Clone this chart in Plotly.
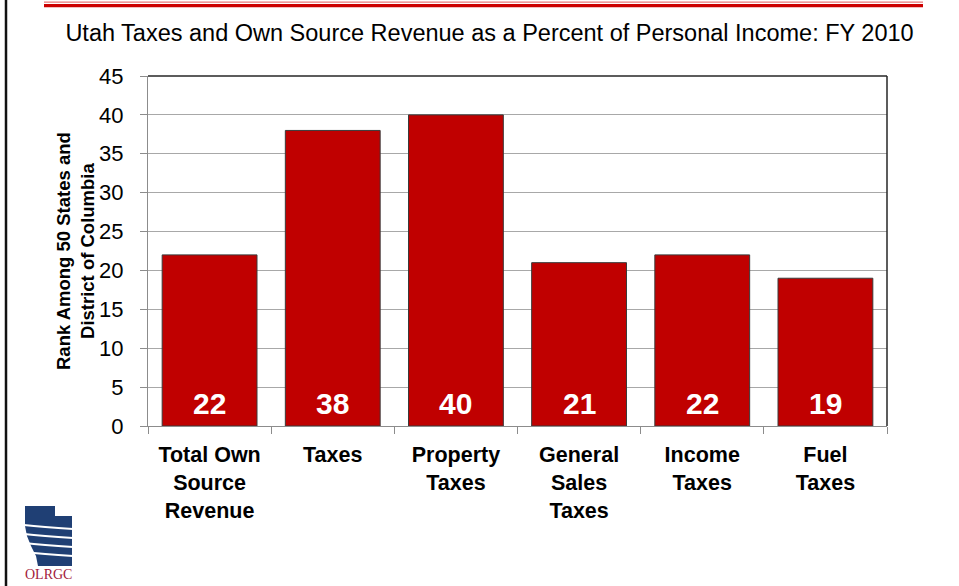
import plotly.graph_objects as go

categories = ["Total Own<br>Source<br>Revenue", "Taxes", "Property<br>Taxes",
              "General<br>Sales<br>Taxes", "Income<br>Taxes", "Fuel<br>Taxes"]
ranks = [22, 38, 40, 21, 22, 19]
y_ticks = [0, 5, 10, 15, 20, 25, 30, 35, 40, 45]

W, H = 959, 586
L, R, T, B = 148, 887, 76, 426


def px(x):
    return (x - L) / (R - L)


def py(y):
    return (B - y) / (B - T)


fig = go.Figure()
fig.add_trace(go.Bar(
    x=categories, y=ranks, width=0.77,
    marker=dict(color="#C00000", line=dict(color="#3A3A3A", width=1)),
    hoverinfo="skip",
))

for c, v in zip(categories, ranks):
    fig.add_annotation(x=c, y=0, text="<b>%d</b>" % v, showarrow=False,
                       yanchor="middle", yshift=23,
                       font=dict(size=30, color="white"))

shapes = []
# plot area top / right border
shapes.append(dict(type="line", xref="paper", yref="paper", x0=0, x1=1, y0=1, y1=1,
                   line=dict(color="#262626", width=1.5)))
shapes.append(dict(type="line", xref="paper", yref="paper", x0=1, x1=1, y0=0, y1=1,
                   line=dict(color="#262626", width=1.5)))
# slide decorations: left black bar, top red rule
shapes.append(dict(type="line", xref="paper", yref="paper", x0=px(6), x1=px(6), y0=py(0), y1=py(586),
                   line=dict(color="#111111", width=2.5)))
shapes.append(dict(type="line", xref="paper", yref="paper", x0=px(44), x1=px(923), y0=py(2.2), y1=py(2.2),
                   line=dict(color="#E87878", width=1.2)))
shapes.append(dict(type="line", xref="paper", yref="paper", x0=px(44), x1=px(923), y0=py(5.6), y1=py(5.6),
                   line=dict(color="#CC0000", width=3.4)))


# logo (Utah-shaped block with white waves)
def path(points):
    s = "M %f,%f " % (px(points[0][0]), py(points[0][1]))
    for p in points[1:]:
        s += "L %f,%f " % (px(p[0]), py(p[1]))
    return s + "Z"


shapes.append(dict(type="path", xref="paper", yref="paper",
                   path=path([(25, 506), (55, 506), (55, 516), (72, 516), (72, 566),
                              (38, 566), (36, 556), (31, 546), (27, 536), (25, 526)]),
                   fillcolor="#1F3F74", line=dict(width=0)))
for yy in [528, 537, 546, 555]:
    shapes.append(dict(type="path", xref="paper", yref="paper",
                       path="M %f,%f Q %f,%f %f,%f" % (px(24), py(yy - 3), px(42), py(yy - 1),
                                                      px(73), py(yy + 1)),
                       line=dict(color="white", width=2)))

fig.add_annotation(xref="paper", yref="paper", x=px(48), y=py(574), text="OLRGC",
                   showarrow=False, xanchor="center", yanchor="middle",
                   font=dict(family="Liberation Serif, Times New Roman, serif", size=14, color="#A3203A"))

# y-axis title
fig.add_annotation(xref="paper", yref="paper", x=px(75), y=0.5,
                   text="<b>Rank Among 50 States and<br>District of Columbia</b>",
                   textangle=-90, showarrow=False, xanchor="center", yanchor="middle",
                   font=dict(size=18.5, color="black"))

fig.update_layout(
    width=W, height=H,
    margin=dict(l=L, r=W - R, t=T, b=H - B),
    paper_bgcolor="white", plot_bgcolor="white",
    font=dict(family="Liberation Sans, Arial, sans-serif", color="black"),
    title=dict(text="Utah Taxes and Own Source Revenue as a Percent of Personal Income: FY 2010",
               xref="container", yref="container", x=489.5 / W, y=1 - 33 / H,
               xanchor="center", yanchor="middle", font=dict(size=23.5, color="black")),
    showlegend=False,
    bargap=0.23,
    shapes=shapes,
)
fig.update_xaxes(
    showline=True, linecolor="#8C8C8C", linewidth=1.2,
    ticks="outside", tickson="boundaries", ticklen=7, tickcolor="#8C8C8C",
    tickfont=dict(size=21.5, color="black", family="Liberation Sans, Arial, sans-serif"),
    tickprefix="<b>", ticksuffix="</b>",
    ticklabelstandoff=9,
)
fig.update_yaxes(
    range=[0, 45], tickvals=y_ticks, ticktext=[str(t) for t in y_ticks],
    showline=True, linecolor="#8C8C8C", linewidth=1.2,
    ticks="outside", ticklen=7, tickcolor="#8C8C8C",
    showgrid=True, gridcolor="#A8A8A8", gridwidth=1,
    zeroline=False,
    tickfont=dict(size=22, color="black"),
    ticklabelstandoff=12,
)

fig.write_html("out.html", config={"displayModeBar": False},
               post_script="document.body.style.margin='0';document.body.style.padding='0';"
                           "document.body.style.overflow='hidden';")
